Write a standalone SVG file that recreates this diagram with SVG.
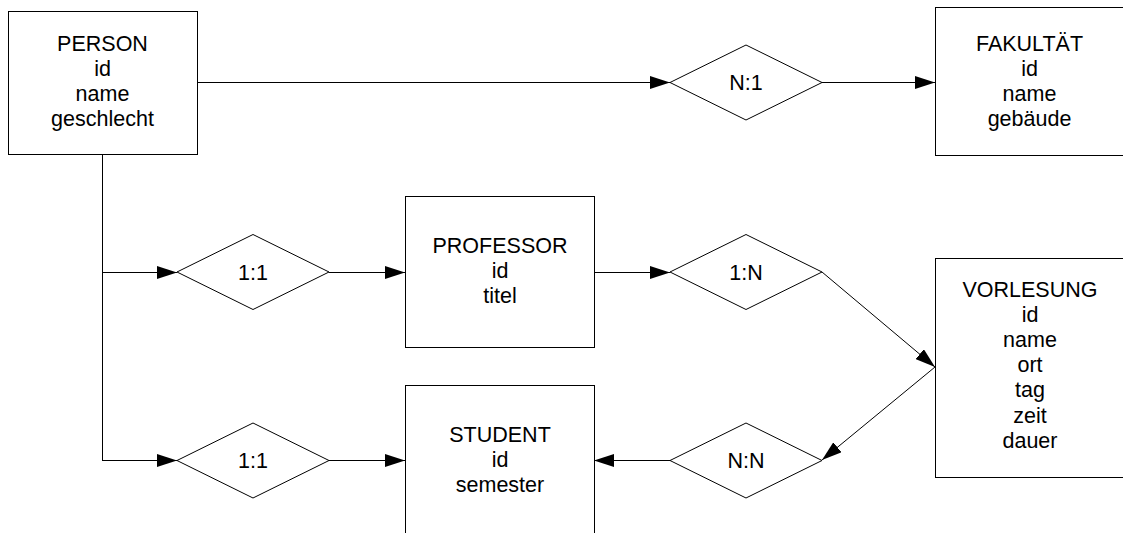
<svg xmlns="http://www.w3.org/2000/svg" width="1123" height="533" viewBox="0 0 1123 533">
<style>
.box{fill:#fff;stroke:#000;stroke-width:1}
.dia{fill:#fff;stroke:#000;stroke-width:1}
.ln{fill:none;stroke:#000;stroke-width:1}
.t{font-family:"Liberation Sans",Arial,sans-serif;font-size:21.5px;fill:#000;text-anchor:middle}
</style>
<defs>
<marker id="arr" markerUnits="userSpaceOnUse" markerWidth="20" markerHeight="13" refX="20" refY="6.5" orient="auto">
<path d="M0,0 L20,6.5 L0,13 z" fill="#000"/>
</marker>
</defs>
<rect width="1123" height="533" fill="#fff"/>
<g id="connectors">
<line class="ln" x1="197" y1="82.5" x2="670" y2="82.5" marker-end="url(#arr)"/>
<line class="ln" x1="822" y1="82.5" x2="935" y2="82.5" marker-end="url(#arr)"/>
<polyline class="ln" points="102.5,154 102.5,460.5"/>
<line class="ln" x1="102" y1="272.5" x2="177" y2="272.5" marker-end="url(#arr)"/>
<line class="ln" x1="329" y1="272.5" x2="405" y2="272.5" marker-end="url(#arr)"/>
<line class="ln" x1="594" y1="272.5" x2="670" y2="272.5" marker-end="url(#arr)"/>
<line class="ln" x1="822" y1="272" x2="935" y2="367" marker-end="url(#arr)"/>
<line class="ln" x1="935" y1="367" x2="822" y2="460" marker-end="url(#arr)"/>
<line class="ln" x1="670" y1="460.5" x2="594" y2="460.5" marker-end="url(#arr)"/>
<line class="ln" x1="102" y1="460.5" x2="177" y2="460.5" marker-end="url(#arr)"/>
<line class="ln" x1="329" y1="460.5" x2="405" y2="460.5" marker-end="url(#arr)"/>
</g>
<g id="person">
<rect class="box" x="8.5" y="11.5" width="189" height="143"/>
<text class="t" x="102.5" y="51">PERSON</text>
<text class="t" x="102.5" y="76">id</text>
<text class="t" x="102.5" y="101">name</text>
<text class="t" x="102.5" y="126">geschlecht</text>
</g>
<g id="fakultaet">
<rect class="box" x="935.5" y="7.5" width="200" height="148"/>
<text class="t" x="1029.5" y="51">FAKULTÄT</text>
<text class="t" x="1029.5" y="76">id</text>
<text class="t" x="1029.5" y="101">name</text>
<text class="t" x="1029.5" y="126">gebäude</text>
</g>
<g id="professor">
<rect class="box" x="405.5" y="196.5" width="189" height="151"/>
<text class="t" x="500" y="253">PROFESSOR</text>
<text class="t" x="500" y="278">id</text>
<text class="t" x="500" y="303">titel</text>
</g>
<g id="student">
<rect class="box" x="405.5" y="385.5" width="189" height="151"/>
<text class="t" x="500" y="442">STUDENT</text>
<text class="t" x="500" y="467">id</text>
<text class="t" x="500" y="492">semester</text>
</g>
<g id="vorlesung">
<rect class="box" x="935.5" y="258.5" width="200" height="219"/>
<text class="t" x="1030" y="297">VORLESUNG</text>
<text class="t" x="1030" y="322">id</text>
<text class="t" x="1030" y="347">name</text>
<text class="t" x="1030" y="372">ort</text>
<text class="t" x="1030" y="397">tag</text>
<text class="t" x="1030" y="423">zeit</text>
<text class="t" x="1030" y="448">dauer</text>
</g>
<g id="rel-n1">
<polygon class="dia" points="670,82.5 746,45 822,82.5 746,120"/>
<text class="t" x="746" y="90">N:1</text>
</g>
<g id="rel-11a">
<polygon class="dia" points="177,272 253,234.5 329,272 253,309.5"/>
<text class="t" x="253" y="280">1:1</text>
</g>
<g id="rel-1n">
<polygon class="dia" points="670,272 746,234.5 822,272 746,309.5"/>
<text class="t" x="746" y="280">1:N</text>
</g>
<g id="rel-nn">
<polygon class="dia" points="670,460.5 746,423 822,460.5 746,498"/>
<text class="t" x="746" y="468">N:N</text>
</g>
<g id="rel-11b">
<polygon class="dia" points="177,460.5 253,423 329,460.5 253,498"/>
<text class="t" x="253" y="468">1:1</text>
</g>
</svg>
